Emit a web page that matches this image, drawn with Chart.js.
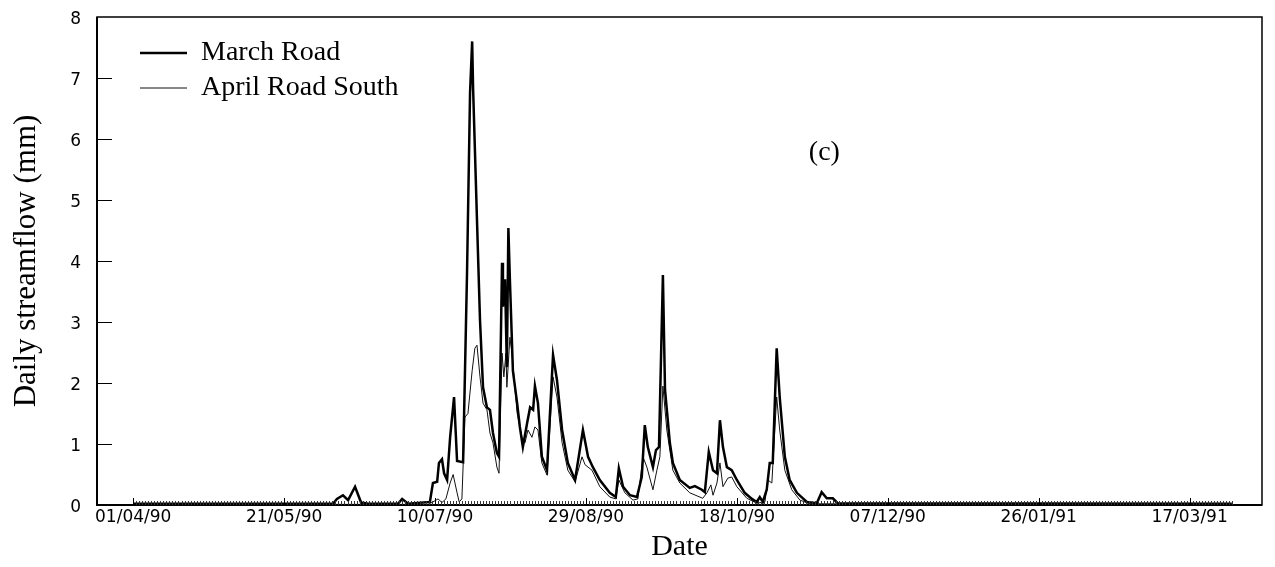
<!DOCTYPE html>
<html>
<head>
<meta charset="utf-8">
<script src="https://cdn.jsdelivr.net/npm/chart.js@4.4.0/dist/chart.umd.min.js"></script>
<style>
  html, body { margin: 0; padding: 0; background: #fff; }
</style>
</head>
<body>
<canvas id="myChart" width="1275" height="567"></canvas>
<script>
// Days counted from 01/04/90 (day 0), values in mm
const startDate = [1990, 3, 1];

const marchDay = [0, 66.2, 67.5, 69.5, 71.2, 73.5, 75.5, 77.8, 87.7, 89.1, 91.1, 98.3, 99.3, 100.7, 101.3,
  102.3, 103.0, 104.0, 105.0, 106.3, 107.3, 109.3, 110.6, 111.6, 112.3, 112.6, 113.9, 114.9, 115.9,
  117.2, 118.2, 119.2, 120.5, 121.2, 122.2, 122.5, 123.2, 123.8, 124.3, 124.8, 125.8, 127.2, 128.1,
  129.1, 130.5, 131.5, 132.5, 133.1, 134.1, 135.4, 137.1, 139.1, 140.4, 142.1, 144.0, 146.4, 149.0,
  150.7, 152.3, 154.6, 157.9, 159.9, 160.9, 162.3, 164.6, 166.9, 168.5, 169.5, 170.5, 172.2, 173.2,
  174.2, 175.5, 176.2, 177.8, 178.8, 181.1, 184.4, 186.1, 188.4, 189.4, 190.7, 192.1, 193.4, 194.4,
  195.4, 196.7, 198.3, 200.0, 202.6, 205.0, 206.6, 207.6, 208.6, 209.9, 210.9, 211.9, 213.2, 214.2,
  215.9, 217.5, 219.9, 223.2, 226.5, 228.1, 229.8, 231.8, 233.4, 364];
const marchFlow = [0.02, 0.02, 0.1, 0.16, 0.08, 0.3, 0.04, 0.02, 0.02, 0.1, 0.02, 0.05, 0.36, 0.38, 0.69,
  0.75, 0.52, 0.41, 1.11, 1.77, 0.72, 0.7, 3.8, 6.75, 7.6, 6.85, 4.67, 3.03, 1.93,
  1.6, 1.56, 1.18, 0.85, 0.79, 3.97, 3.25, 3.7, 2.26, 4.54, 3.7, 2.2, 1.67, 1.28,
  0.95, 1.34, 1.6, 1.56, 1.95, 1.67, 0.79, 0.57, 2.46, 2.05, 1.23, 0.69, 0.41, 1.23,
  0.79, 0.62, 0.41, 0.2, 0.13, 0.6, 0.3, 0.16, 0.13, 0.46, 1.31, 0.95, 0.62, 0.9,
  0.95, 3.77, 1.89, 1.02, 0.69, 0.41, 0.28, 0.31, 0.25, 0.21, 0.87, 0.57, 0.52, 1.39,
  0.95, 0.62, 0.57, 0.41, 0.2, 0.1, 0.05, 0.13, 0.05, 0.25, 0.69, 0.69, 2.57, 1.77,
  0.79, 0.41, 0.2, 0.05, 0.03, 0.21, 0.11, 0.11, 0.03, 0.02];

const aprilDay = [0, 97.7, 99.3, 101.0, 102.3, 103.6, 105.0, 106.0, 107.3, 108.0, 108.9, 109.9, 110.9,
  112.3, 113.2, 113.9, 114.9, 115.9, 117.2, 118.2, 119.2, 120.5, 121.2, 122.2, 122.8, 123.5, 123.8,
  124.8, 125.5, 127.2, 128.8, 129.8, 130.8, 132.1, 133.1, 134.1, 135.4, 137.1, 139.1, 140.4, 142.1,
  144.0, 146.4, 148.7, 149.7, 152.0, 154.6, 157.9, 159.9, 160.9, 162.9, 165.6, 167.2, 168.9, 170.2,
  172.2, 173.5, 174.5, 175.5, 176.8, 178.8, 181.1, 184.4, 188.7, 190.1, 191.4, 192.1, 193.4, 194.4,
  195.4, 197.0, 198.3, 200.0, 203.3, 206.6, 209.3, 210.3, 211.6, 213.2, 214.2, 215.9, 218.2, 220.9,
  224.2, 364];
const aprilFlow = [0.01, 0.01, 0.05, 0.1, 0.04, 0.1, 0.36, 0.5, 0.2, 0.05, 0.1, 1.44, 1.5,
  2.2, 2.57, 2.62, 2.1, 1.67, 1.56, 1.18, 1.02, 0.62, 0.52, 2.49, 2.1, 2.49, 1.93,
  2.75, 2.49, 1.51, 1.11, 1.02, 1.23, 1.11, 1.28, 1.23, 0.69, 0.49, 2.1, 1.77, 1.02,
  0.57, 0.38, 0.79, 0.66, 0.57, 0.3, 0.13, 0.1, 0.41, 0.2, 0.08, 0.1, 0.79, 0.62,
  0.25, 0.57, 0.79, 1.95, 1.23, 0.57, 0.36, 0.2, 0.11, 0.2, 0.33, 0.16, 0.36, 0.69,
  0.3, 0.44, 0.46, 0.3, 0.11, 0.03, 0.05, 0.41, 0.36, 1.77, 1.23, 0.57, 0.25, 0.08,
  0.02, 0.01];

const seriesNames = ['March Road', 'April Road South'];
const yMin = 0, yMax = 8;
const xMin = -12, xMax = 374, xStep = 50;
const panelLabel = '(c)';
const panelAt = [229, 5.77];

const serif = '"Liberation Serif", "Times New Roman", serif';
const sans = '"DejaVu Sans", sans-serif';

// Formato dd/mm/yy a partir del numero de dia
function dayLabel(v) {
  const d = new Date(startDate[0], startDate[1], startDate[2] + v);
  const dd = String(d.getDate()).padStart(2, '0');
  const mm = String(d.getMonth() + 1).padStart(2, '0');
  const yy = String(d.getFullYear()).slice(2);
  return dd + '/' + mm + '/' + yy;
}

function toPoints(days, vals) {
  return days.map((d, i) => ({ x: d, y: vals[i] }));
}

// Marco, marcas de eje hacia dentro y etiqueta del panel
const axisMarks = {
  id: 'axisMarks',
  afterLayout(chart) {
    const lg = chart.legend;
    const a = chart.chartArea;
    lg.left = a.left + 36;
    lg.top = a.top + 15;
    lg.right = lg.left + lg.width + 40;
    lg.bottom = lg.top + 90;
  },
  afterDatasetsDraw(chart) {
    const { ctx, chartArea: a, scales: { x, y } } = chart;
    ctx.save();
    ctx.strokeStyle = '#000';
    ctx.lineWidth = 1.5;
    ctx.strokeRect(a.left, a.top, a.right - a.left, a.bottom - a.top);
    ctx.lineWidth = 2;
    ctx.beginPath();
    ctx.moveTo(a.left, a.top);
    ctx.lineTo(a.left, a.bottom);
    ctx.lineTo(a.right, a.bottom);
    ctx.stroke();

    // marcas diarias
    ctx.lineWidth = 1;
    ctx.strokeStyle = '#333';
    ctx.beginPath();
    const first = marchDay[0], last = marchDay[marchDay.length - 1];
    for (let d = first; d <= last; d++) {
      const px = Math.round(x.getPixelForValue(d)) + 0.5;
      ctx.moveTo(px, a.bottom);
      ctx.lineTo(px, a.bottom - 4);
    }
    ctx.stroke();

    // marcas principales
    ctx.strokeStyle = '#000';
    ctx.beginPath();
    x.ticks.forEach(t => {
      const px = Math.round(x.getPixelForValue(t.value)) + 0.5;
      ctx.moveTo(px, a.bottom);
      ctx.lineTo(px, a.bottom - 7);
    });
    y.ticks.forEach(t => {
      if (t.value <= yMin || t.value >= yMax) return;
      const py = Math.round(y.getPixelForValue(t.value)) + 0.5;
      ctx.moveTo(a.left, py);
      ctx.lineTo(a.left + 15, py);
    });
    ctx.stroke();

    ctx.fillStyle = '#000';
    ctx.font = '28px ' + serif;
    ctx.textAlign = 'center';
    ctx.textBaseline = 'middle';
    ctx.fillText(panelLabel, x.getPixelForValue(panelAt[0]), y.getPixelForValue(panelAt[1]));
    ctx.restore();
  }
};

const ctx = document.getElementById('myChart').getContext('2d');
const chart = new Chart(ctx, {
  type: 'line',
  data: {
    datasets: [
      {
        label: seriesNames[0],
        data: toPoints(marchDay, marchFlow),
        borderColor: '#000',
        backgroundColor: '#000',
        borderWidth: 2.5,
        pointRadius: 0,
        pointStyle: 'line',
        pointBorderWidth: 2.5,
        tension: 0,
        fill: false
      },
      {
        label: seriesNames[1],
        data: toPoints(aprilDay, aprilFlow),
        borderColor: '#111',
        backgroundColor: '#111',
        borderWidth: 1,
        pointRadius: 0,
        pointStyle: 'line',
        pointBorderWidth: 1,
        tension: 0,
        fill: false
      }
    ]
  },
  options: {
    responsive: false,
    animation: false,
    devicePixelRatio: 1,
    layout: { padding: { top: 17, right: 13, left: 0, bottom: 0 } },
    plugins: {
      tooltip: { enabled: false },
      legend: {
        position: 'chartArea',
        align: 'start',
        labels: {
          usePointStyle: true,
          pointStyleWidth: 47,
          padding: 7,
          color: '#000',
          font: { family: serif, size: 28 }
        }
      }
    },
    scales: {
      x: {
        type: 'linear',
        min: xMin,
        max: xMax,
        grid: { display: false, drawTicks: false },
        border: { display: false },
        ticks: {
          stepSize: xStep,
          includeBounds: false,
          autoSkip: false,
          maxRotation: 0,
          padding: 2,
          color: '#000',
          font: { family: sans, size: 17 },
          callback: v => dayLabel(v)
        },
        title: {
          display: true,
          text: 'Date',
          color: '#000',
          font: { family: serif, size: 30 },
          padding: { top: 0, bottom: 2 }
        },
        afterFit: s => { s.height = 62; s.paddingLeft = 0; s.paddingRight = 0; }
      },
      y: {
        min: yMin,
        max: yMax,
        grid: { display: false, drawTicks: false },
        border: { display: false },
        ticks: {
          stepSize: 1,
          padding: 16,
          labelOffset: 3,
          color: '#000',
          font: { family: sans, size: 17 }
        },
        title: {
          display: true,
          text: 'Daily streamflow (mm)',
          color: '#000',
          font: { family: serif, size: 31 },
          padding: { top: 8, bottom: 0 }
        },
        afterFit: s => { s.width = 97; s.paddingTop = 0; s.paddingBottom = 0; }
      }
    }
  },
  plugins: [axisMarks]
});
</script>
</body>
</html>
